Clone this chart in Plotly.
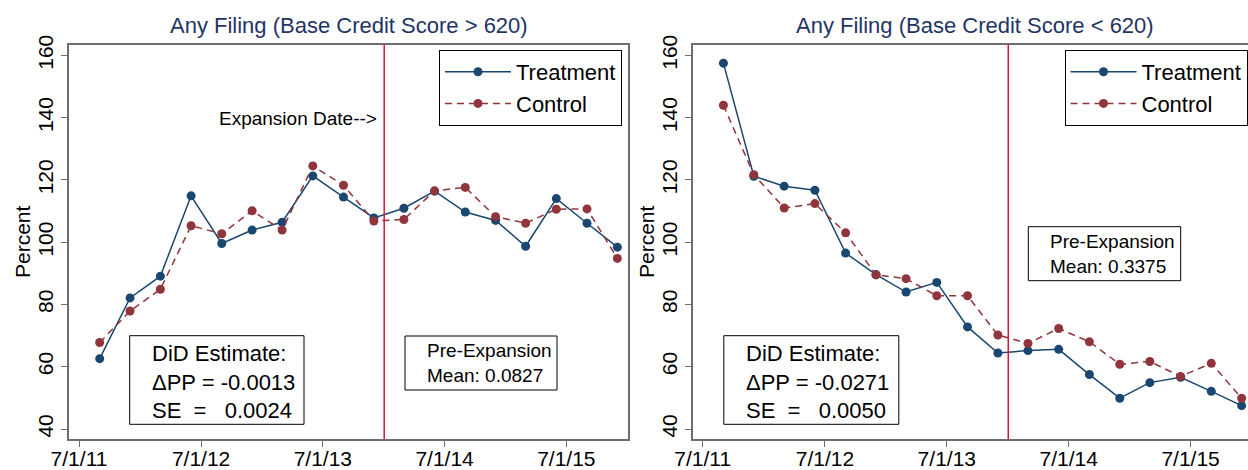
import plotly.graph_objects as go

# ---------------- data ----------------
dates = ["2011-09-01", "2011-12-01", "2012-03-01", "2012-06-01", "2012-09-01", "2012-12-01",
         "2013-03-01", "2013-06-01", "2013-09-01", "2013-12-01", "2014-03-01", "2014-06-01",
         "2014-09-01", "2014-12-01", "2015-03-01", "2015-06-01", "2015-09-01", "2015-12-01"]

high_treatment = [62.6, 82.1, 89.1, 114.9, 99.6, 103.9, 106.4, 121.3, 114.5, 107.8,
                  110.9, 116.4, 109.7, 107.0, 98.7, 114.0, 106.1, 98.4]
high_control = [67.8, 77.9, 84.9, 105.3, 102.7, 110.1, 103.9, 124.5, 118.3, 106.8,
                107.3, 116.5, 117.6, 108.2, 106.1, 110.6, 110.7, 94.8]

low_treatment = [157.5, 121.2, 118.0, 116.7, 96.5, 89.6, 84.0, 87.1, 72.8, 64.4,
                 65.2, 65.6, 57.5, 49.9, 54.9, 56.6, 52.1, 47.5]
low_control = [144.0, 121.7, 111.0, 112.4, 103.0, 89.5, 88.3, 82.8, 82.8, 70.2,
               67.5, 72.3, 68.0, 60.8, 61.7, 56.9, 61.1, 49.9]

expansion_date = "2014-01-01"

x_tick_dates = ["2011-07-01", "2012-07-01", "2013-07-01", "2014-07-01", "2015-07-01"]
x_tick_labels = ["7/1/11", "7/1/12", "7/1/13", "7/1/14", "7/1/15"]
y_ticks = [40, 60, 80, 100, 120, 140, 160]

titles = ["Any Filing (Base Credit Score > 620)", "Any Filing (Base Credit Score < 620)"]
did_texts = ["DiD Estimate:<br>\u0394PP = -0.0013<br>SE\u00a0\u00a0=\u00a0\u00a0\u00a00.0024",
             "DiD Estimate:<br>\u0394PP = -0.0271<br>SE\u00a0\u00a0=\u00a0\u00a0\u00a00.0050"]
pre_texts = ["Pre-Expansion<br>Mean: 0.0827", "Pre-Expansion<br>Mean: 0.3375"]

# ---------------- styling ----------------
W, H = 1248, 470
FONT = "Liberation Sans, Arial, Helvetica, sans-serif"
NAVY = "#1a476f"
MAROON = "#90353b"
RED = "#dc143c"
AXIS = "#6e6e6e"
TITLE_COLOR = "#1f3466"


def fx(px):
    return px / W


def fy(py):
    return 1 - py / H


fig = go.Figure()

panels = [
    dict(xa="x", ya="y", legend="legend", treat=high_treatment, ctrl=high_control),
    dict(xa="x2", ya="y2", legend="legend2", treat=low_treatment, ctrl=low_control),
]

for p in panels:
    fig.add_trace(go.Scatter(
        x=dates, y=p["treat"], name="Treatment", mode="lines+markers",
        xaxis=p["xa"], yaxis=p["ya"], legend=p["legend"],
        line=dict(color=NAVY, width=1.5),
        marker=dict(color=NAVY, size=9)))
    fig.add_trace(go.Scatter(
        x=dates, y=p["ctrl"], name="Control", mode="lines+markers",
        xaxis=p["xa"], yaxis=p["ya"], legend=p["legend"],
        line=dict(color=MAROON, width=1.5, dash="7px,5px"),
        marker=dict(color=MAROON, size=9)))

y_dom = [fy(439.3), fy(44.5)]

common_x = dict(type="date", tickvals=x_tick_dates, ticktext=x_tick_labels,
                showline=True, linecolor=AXIS, linewidth=1.5, mirror=True,
                ticks="outside", ticklen=6, tickcolor=AXIS, tickwidth=1,
                ticklabelstandoff=-6,
                showgrid=False, zeroline=False,
                tickfont=dict(family=FONT, size=21, color="black"))
common_y = dict(range=[36.7, 163.5], tickvals=y_ticks, tickangle=-90,
                showline=True, linecolor=AXIS, linewidth=1.5,
                ticks="outside", ticklen=6, tickcolor=AXIS, tickwidth=1,
                showgrid=False, zeroline=False, domain=y_dom,
                tickfont=dict(family=FONT, size=21, color="black"))

fig.update_layout(
    xaxis=dict(common_x, domain=[fx(69), fx(627.7)], range=["2011-06-01", "2016-01-01"], anchor="y"),
    yaxis=dict(common_y, mirror=True, anchor="x"),
    xaxis2=dict(common_x, domain=[fx(692.7), 1.0], range=["2011-06-01", "2015-12-20"], anchor="y2"),
    yaxis2=dict(common_y, mirror=False, anchor="x2"),
)

legend_common = dict(bgcolor="white", bordercolor="black", borderwidth=1,
                     font=dict(family=FONT, size=22, color="black"),
                     xanchor="right", yanchor="top", itemwidth=66,
                     tracegroupgap=0)
fig.update_layout(
    legend=dict(legend_common, x=fx(622), y=fy(50)),
    legend2=dict(legend_common, x=fx(1247.5), y=fy(50)),
)

# vertical expansion lines
for xa in ["x", "x2"]:
    fig.add_shape(type="line", xref=xa, yref=f"{xa.replace('x', 'y')} domain",
                  x0=expansion_date, x1=expansion_date, y0=0, y1=1,
                  line=dict(color=RED, width=1.5))

# titles
for cx, t in zip([348.9, 975], titles):
    fig.add_annotation(text=t, xref="paper", yref="paper", x=fx(cx), y=fy(25),
                       xanchor="center", yanchor="middle", showarrow=False,
                       font=dict(family=FONT, size=22, color=TITLE_COLOR))

# y-axis titles
for cx in [23, 647]:
    fig.add_annotation(text="Percent", xref="paper", yref="paper", x=fx(cx), y=fy(242),
                       xanchor="center", yanchor="middle", textangle=-90, showarrow=False,
                       font=dict(family=FONT, size=21, color="black"))

# expansion date label
fig.add_annotation(text="Expansion Date-->", xref="paper", yref="paper", x=fx(379.5), y=fy(119),
                   xanchor="right", yanchor="middle", showarrow=False,
                   font=dict(family=FONT, size=19, color="black"))

# DiD boxes
for (x0, x1, tx), t in zip([(129.7, 304.0, 150.0), (723.8, 898.8, 744.0)], did_texts):
    fig.add_shape(type="rect", xref="paper", yref="paper",
                  x0=fx(x0), x1=fx(x1), y0=fy(424.3), y1=fy(335.7),
                  line=dict(color="black", width=1), fillcolor="white", layer="above")
    fig.add_annotation(text=t, xref="paper", yref="paper", x=fx(tx), y=fy(381.5),
                       xanchor="left", yanchor="middle", align="left", showarrow=False,
                       font=dict(family=FONT, size=22, color="black"))

# Pre-expansion boxes
for (x0, x1, y0, y1, tx), t in zip([(405.0, 557.0, 336.0, 390.0, 424.5),
                                    (1028.3, 1180.7, 226.7, 280.7, 1048.0)], pre_texts):
    fig.add_shape(type="rect", xref="paper", yref="paper",
                  x0=fx(x0), x1=fx(x1), y0=fy(y1), y1=fy(y0),
                  line=dict(color="black", width=1), fillcolor="white", layer="above")
    fig.add_annotation(text=t, xref="paper", yref="paper", x=fx(tx), y=fy((y0 + y1) / 2),
                       xanchor="left", yanchor="middle", align="left", showarrow=False,
                       font=dict(family=FONT, size=19, color="black"))

fig.update_layout(
    width=W, height=H,
    margin=dict(l=0, r=0, t=0, b=0, autoexpand=False),
    paper_bgcolor="white", plot_bgcolor="white",
    font=dict(family=FONT, color="black"),
    hovermode=False,
)

# remove the browser's default 8px body margin so the 1248x470 figure fills the window
fig.write_html("out.html",
               config={"displayModeBar": False},
               post_script="document.body.style.margin='0px';document.body.style.overflow='hidden';")
